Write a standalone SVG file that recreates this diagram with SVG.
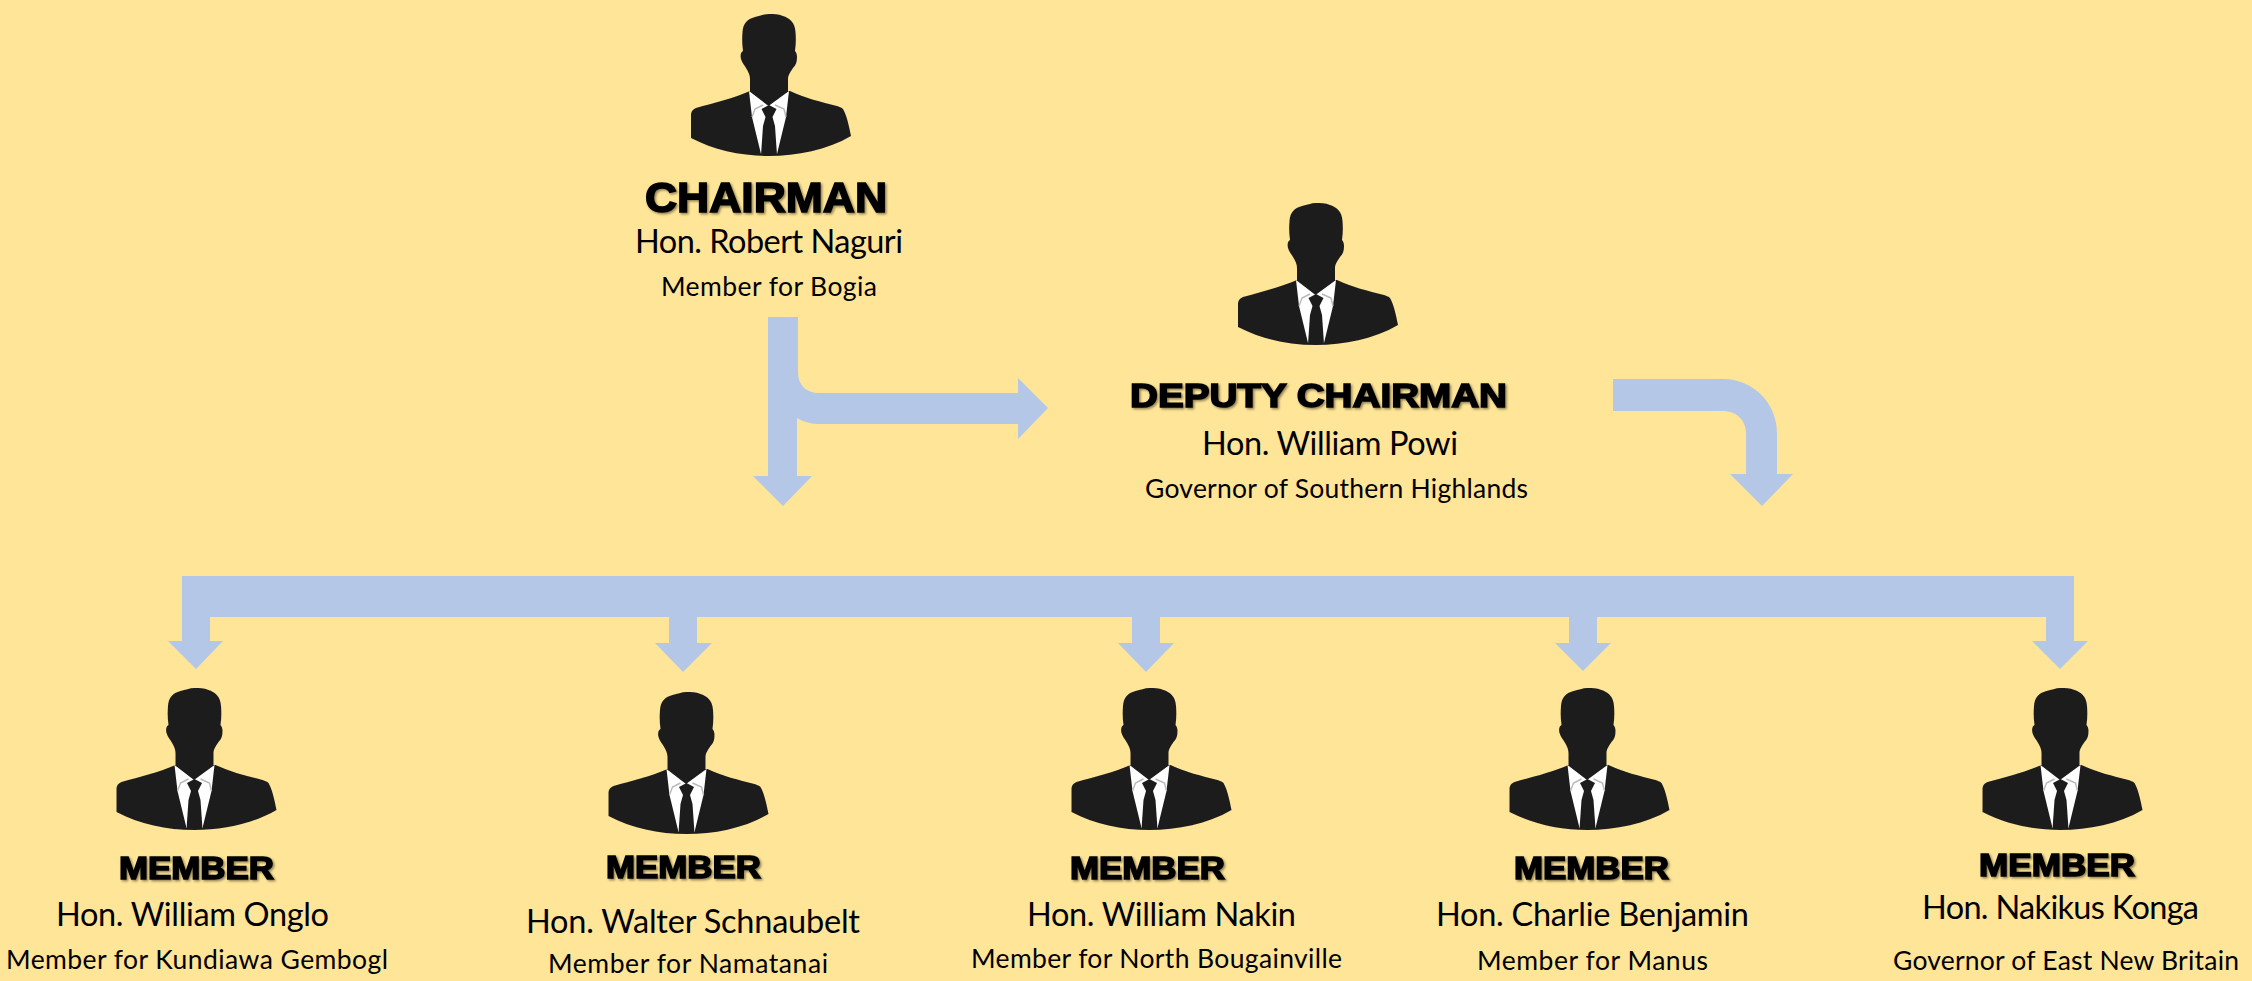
<svg xmlns="http://www.w3.org/2000/svg" xmlns:xlink="http://www.w3.org/1999/xlink" width="2252" height="981" viewBox="0 0 2252 981">
<style>
.arrow{fill:#B4C7E7}
.t{font-family:"Liberation Sans",Arial,sans-serif;font-weight:700;fill:#000;stroke:#000;stroke-width:1.6;filter:url(#sh)}
.t40{font-size:42px}
.t32{font-size:34px}
.t31{font-size:32px}
.n{font-family:Lato,"Open Sans",sans-serif;font-size:32.5px;fill:#000}
.s{font-family:Lato,"Open Sans",sans-serif;font-size:26.5px;fill:#000}
</style>
<defs>
<filter id="sh" x="-5%" y="-20%" width="110%" height="150%"><feDropShadow dx="1.5" dy="1.5" stdDeviation="1" flood-color="#000" flood-opacity=".45"/></filter>
<filter id="soft" x="-5%" y="-5%" width="110%" height="110%"><feGaussianBlur stdDeviation="0.5"/></filter>
<g id="person" filter="url(#soft)">
<path fill="#1E1E1E" d="M0 0C-5 0-9 2-14 3C-22 5-26 10-26.500 18C-27 24-27 30-26 37C-28 38-29 41-28 45C-27 49-24 52-23 54C-21 57-19 61-19 65L-19 77C-35 84-55 89-73 94C-77 96-78 98-78 102L-78 124C-55 136-28 142 0 142C28 142 58 136 82 122C80 112 78 102 74 95C72 93 70 93 68 92C52 88 36 84 21 77L19 77L19 65C19 61 22 57 24 54C27 51 28 48 28 43C28 40 27 38 26 37C27 30 27 24 26.500 18C26 8 20 4 14 2C9 0 5 0 0 0Z"/>
<path fill="#FFF" d="M-20 77L-0.5 92L20 77L17 103L8 140H-8L-17 103Z"/>
<path fill="none" stroke="#B9B9B9" stroke-width="1.4" d="M-17 103L-14 95L-6 91M17 103L15 95L6 91"/>
<path fill="#1E1E1E" d="M0 91L7.500 95L3.500 103L6 112L8 141H-8L-6 112L-3.500 103L-7.500 95Z"/>
</g>
</defs>
<rect width="2252" height="981" fill="#FFE597"/>
<g id="connectors">
<path class="arrow" d="M768 317H798V372C798 385 806 393 819 393H1018V378L1048 408L1018 439V424H819C811 424 804 422 797 418V476H812L783 506L753 476H768Z"/>
<path class="arrow" d="M1613 379H1723C1753 379 1777 403 1777 433V474H1793L1762 506L1730 474H1746V433C1746 420 1736 411 1723 411H1613Z"/>
<path class="arrow" d="M182 576H2074V641H2088L2060 669L2032 641H2046V617H1597V643H1611L1583 671L1555 643H1569V617H1160V643H1174L1146 672L1118 643H1132V617H697V643H712L683 672L655 643H669V617H210V641H223L196 669L168 641H182Z"/>
</g>
<g id="chairman">
<use xlink:href="#person" href="#person" x="769" y="14"/>
<text class="t t40" x="645" y="212" textLength="242" lengthAdjust="spacingAndGlyphs">CHAIRMAN</text>
<text class="n" x="635" y="253" textLength="268">Hon. Robert Naguri</text>
<text class="s" x="661" y="296" textLength="216">Member for Bogia</text>
</g>
<g id="deputy-chairman">
<use xlink:href="#person" href="#person" x="1316" y="203"/>
<text class="t t32" x="1130" y="407" textLength="377" lengthAdjust="spacingAndGlyphs">DEPUTY CHAIRMAN</text>
<text class="n" x="1202" y="455" textLength="256">Hon. William Powi</text>
<text class="s" x="1145" y="498" textLength="383">Governor of Southern Highlands</text>
</g>
<g id="member-1">
<use xlink:href="#person" href="#person" x="194.500" y="688"/>
<text class="t t31" x="119" y="879" textLength="155" lengthAdjust="spacingAndGlyphs">MEMBER</text>
<text class="n" x="56" y="926" textLength="273">Hon. William Onglo</text>
<text class="s" x="6" y="969" textLength="382">Member for Kundiawa Gembogl</text>
</g>
<g id="member-2">
<use xlink:href="#person" href="#person" x="686.500" y="692"/>
<text class="t t31" x="606" y="878" textLength="155" lengthAdjust="spacingAndGlyphs">MEMBER</text>
<text class="n" x="526" y="933" textLength="334">Hon. Walter Schnaubelt</text>
<text class="s" x="548" y="973" textLength="280">Member for Namatanai</text>
</g>
<g id="member-3">
<use xlink:href="#person" href="#person" x="1149.500" y="688"/>
<text class="t t31" x="1070" y="879" textLength="155" lengthAdjust="spacingAndGlyphs">MEMBER</text>
<text class="n" x="1027" y="926" textLength="269">Hon. William Nakin</text>
<text class="s" x="971" y="968" textLength="371">Member for North Bougainville</text>
</g>
<g id="member-4">
<use xlink:href="#person" href="#person" x="1587.500" y="688"/>
<text class="t t31" x="1514" y="879" textLength="155" lengthAdjust="spacingAndGlyphs">MEMBER</text>
<text class="n" x="1436" y="926" textLength="313">Hon. Charlie Benjamin</text>
<text class="s" x="1477" y="970" textLength="231">Member for Manus</text>
</g>
<g id="member-5">
<use xlink:href="#person" href="#person" x="2060.500" y="688"/>
<text class="t t31" x="1979" y="876" textLength="156" lengthAdjust="spacingAndGlyphs">MEMBER</text>
<text class="n" x="1922" y="919" textLength="277">Hon. Nakikus Konga</text>
<text class="s" x="1893" y="970" textLength="346">Governor of East New Britain</text>
</g>
</svg>
